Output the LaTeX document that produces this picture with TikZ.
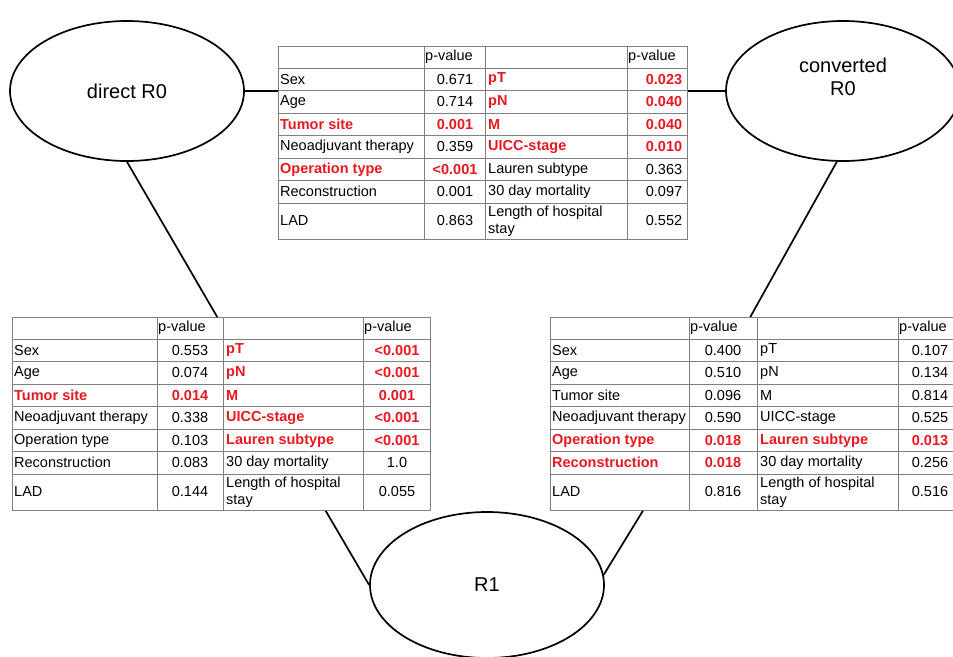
\documentclass[tikz,border=0pt]{standalone}
\usepackage{fontspec}
\setmainfont{Liberation Sans}
\usetikzlibrary{shapes.geometric,calc}
\definecolor{sigred}{RGB}{232,24,32}

\begin{document}
\begin{tikzpicture}[
  x=1pt, y=-1pt,
  font=\fontsize{14.5}{16.5}\selectfont,
  state/.style={ellipse, draw=black, line width=1.7pt, minimum width=234pt,
                minimum height=#1, align=center, inner sep=2pt,
                font=\fontsize{20}{23}\selectfont},
  state/.default=140pt,
  statetxt/.style={align=center, inner sep=0pt, font=\fontsize{20}{23}\selectfont},
  ptab/.style={rectangle, draw=black!50, line width=0.8pt, anchor=north west,
               minimum width=#1pt, minimum height=193pt, inner sep=0pt},
  rule/.style={draw=black!50, line width=0.8pt},
  link/.style={draw=black, line width=1.7pt},
  lbl/.style={anchor=west, inner sep=0pt, align=left},
  val/.style={inner sep=0pt},
  nrm/.style={},
  sig/.style={text=sigred, font=\fontsize{14.5}{16.5}\selectfont\bfseries},
]
\useasboundingbox (0,0) rectangle (953,656);

% ---- outcome ellipses ----
\node[state] (dR0) at (127,91) {direct R0};
\node[state] (cR0) at (843,91) {};
\node[statetxt] (cR0-t) at (843,77) {converted\\R0};
\node[state=146pt] (R1) at (487,585) {R1};

% ---- table frames and rules ----
\foreach \n/\x/\y/\ca/\cb/\cc/\w in {top/278/46/146/207/349/409,
                                     lft/12/317/145/211/351/418,
                                     rgt/550/317/139/207/348/403} {
  \node[ptab=\w] (\n) at (\x,\y) {};
  \foreach \c in {\ca,\cb,\cc}
    \draw[rule] (\x+\c,\y) -- (\x+\c,\y+193);
  \foreach \h in {22,44.5,67,89.5,112,134.5,157}
    \draw[rule] (\x,\y+\h) -- (\x+\w,\y+\h);
  \node[lbl] (\n-ha) at (\x+\ca+1,\y+11) {p-value};
  \node[lbl] (\n-hb) at (\x+\cc+1,\y+11) {p-value};
}

% ---- direct R0 vs converted R0 ----
\foreach \r/\sa/\la/\va/\sb/\lb/\vb in {
    1/nrm/Sex/0.671/sig/pT/0.023,
    2/nrm/Age/0.714/sig/pN/0.040,
    3/sig/Tumor site/0.001/sig/M/0.040,
    4/nrm/Neoadjuvant therapy/0.359/sig/UICC-stage/0.010,
    5/sig/Operation type/<0.001/nrm/Lauren subtype/0.363,
    6/nrm/Reconstruction/0.001/nrm/30 day mortality/0.097,
    7/nrm/LAD/0.863/nrm/{Length of hospital\\stay}/0.552} {
  \pgfmathsetmacro\ry{\r<7 ? 46+33.25+22.5*(\r-1) : 46+175}
  \node[lbl,\sa] (top-a\r) at (280,\ry) {\la};
  \node[val,\sa] (top-p\r) at (455,\ry) {\va};
  \node[lbl,\sb] (top-b\r) at (488,\ry) {\lb};
  \node[val,\sb] (top-q\r) at (664,\ry) {\vb};
}

% ---- direct R0 vs R1 ----
\foreach \r/\sa/\la/\va/\sb/\lb/\vb in {
    1/nrm/Sex/0.553/sig/pT/<0.001,
    2/nrm/Age/0.074/sig/pN/<0.001,
    3/sig/Tumor site/0.014/sig/M/0.001,
    4/nrm/Neoadjuvant therapy/0.338/sig/UICC-stage/<0.001,
    5/nrm/Operation type/0.103/sig/Lauren subtype/<0.001,
    6/nrm/Reconstruction/0.083/nrm/30 day mortality/1.0,
    7/nrm/LAD/0.144/nrm/{Length of hospital\\stay}/0.055} {
  \pgfmathsetmacro\ry{\r<7 ? 317+33.25+22.5*(\r-1) : 317+175}
  \node[lbl,\sa] (lft-a\r) at (14,\ry) {\la};
  \node[val,\sa] (lft-p\r) at (190,\ry) {\va};
  \node[lbl,\sb] (lft-b\r) at (226,\ry) {\lb};
  \node[val,\sb] (lft-q\r) at (397,\ry) {\vb};
}

% ---- converted R0 vs R1 ----
\foreach \r/\sa/\la/\va/\sb/\lb/\vb in {
    1/nrm/Sex/0.400/nrm/pT/0.107,
    2/nrm/Age/0.510/nrm/pN/0.134,
    3/nrm/Tumor site/0.096/nrm/M/0.814,
    4/nrm/Neoadjuvant therapy/0.590/nrm/UICC-stage/0.525,
    5/sig/Operation type/0.018/sig/Lauren subtype/0.013,
    6/sig/Reconstruction/0.018/nrm/30 day mortality/0.256,
    7/nrm/LAD/0.816/nrm/{Length of hospital\\stay}/0.516} {
  \pgfmathsetmacro\ry{\r<7 ? 317+33.25+22.5*(\r-1) : 317+175}
  \node[lbl,\sa] (rgt-a\r) at (552,\ry) {\la};
  \node[val,\sa] (rgt-p\r) at (723,\ry) {\va};
  \node[lbl,\sb] (rgt-b\r) at (760,\ry) {\lb};
  \node[val,\sb] (rgt-q\r) at (930,\ry) {\vb};
}

% ---- connectors ----
\draw[link] (dR0.east) -- (dR0.east -| top.west);
\draw[link] (cR0.west) -- (cR0.west -| top.east);
\draw[link] (dR0.south) -- ($(lft.north west)!0.49!(lft.north east)$);
\draw[link] (cR0.265) -- ($(rgt.north west)!0.496!(rgt.north east)$);
\draw[link] ($(lft.south west)!0.749!(lft.south east)$) -- (R1.west);
\draw[link] ($(rgt.south west)!0.23!(rgt.south east)$) -- (R1.5);

\end{tikzpicture}
\end{document}
